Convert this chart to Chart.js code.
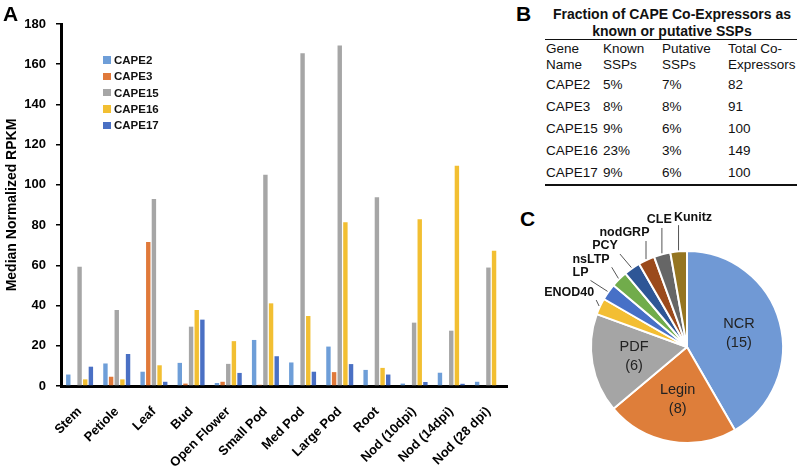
<!DOCTYPE html>
<html><head><meta charset="utf-8">
<script src="https://cdn.jsdelivr.net/npm/chart.js@4.4.0/dist/chart.umd.min.js"></script>
<style>
html,body{margin:0;padding:0;width:800px;height:467px;overflow:hidden;background:#fff;font-family:"Liberation Sans",Arial,sans-serif;}
#wrapA{position:absolute;left:0;top:0;width:515px;height:467px;}
#wrapC{position:absolute;left:520px;top:197px;width:280px;height:270px;}
.panel{position:absolute;font-weight:bold;font-size:21px;line-height:21px;color:#000;}
#legend{position:absolute;left:103px;top:52px;}
.li{height:16.3px;display:flex;align-items:center;font-weight:bold;font-size:11.5px;color:#111;}
.sw{width:7.5px;height:7.5px;margin-right:3.5px;flex:none;}
#ttl{position:absolute;left:545px;top:6px;width:254px;text-align:center;font-weight:bold;font-size:14px;line-height:16.5px;color:#111;white-space:nowrap;}
#tbl{position:absolute;left:545px;top:39px;width:252px;border-collapse:collapse;table-layout:fixed;font-size:13.5px;color:#111;border-top:1.5px solid #111;border-bottom:2px solid #111;}
#tbl td{padding:0 0 0 1px;white-space:nowrap;}
#tbl tr.h td{height:33px;vertical-align:top;line-height:16px;padding-top:1px;}
#tbl tr.d td{height:22px;vertical-align:middle;line-height:22px;}
</style></head>
<body>
<div id="wrapA"><canvas id="cA" width="515" height="467"></canvas></div>
<div id="legend"></div>
<div class="panel" style="left:3px;top:3px;">A</div>
<div class="panel" style="left:516px;top:3px;">B</div>
<div class="panel" style="left:520px;top:208px;">C</div>
<div id="ttl">Fraction of CAPE Co-Expressors as<br>known or putative SSPs</div>
<table id="tbl"><colgroup><col style="width:57px"><col style="width:59px"><col style="width:66px"><col style="width:70px"></colgroup><tbody id="tb"></tbody></table>
<div id="wrapC"><canvas id="cC" width="280" height="270"></canvas></div>
<script>
// ---- Panel A data ----
const categories = ['Stem','Petiole','Leaf','Bud','Open Flower','Small Pod','Med Pod','Large Pod','Root','Nod (10dpi)','Nod (14dpi)','Nod (28 dpi)'];
const seriesNames = ['CAPE2','CAPE3','CAPE15','CAPE16','CAPE17'];
const cape2  = [5.7, 11.2, 7.1, 11.5, 1.5, 22.9, 11.7, 19.6, 8.0, 1.2, 6.6, 2.1];
const cape3  = [0, 4.6, 71.6, 1.2, 2.1, 0.6, 0, 6.9, 0, 0, 0, 0];
const cape15 = [59.3, 37.8, 93.0, 29.5, 11.0, 105.0, 165.5, 169.3, 93.9, 31.5, 27.5, 58.9];
const cape16 = [3.3, 3.3, 10.3, 37.8, 22.3, 41.1, 34.8, 81.4, 9.0, 82.9, 109.5, 67.3];
const cape17 = [9.6, 15.9, 2.1, 33.0, 6.5, 14.8, 7.1, 10.9, 5.7, 2.0, 1.1, 0];
const yTicks = [0,20,40,60,80,100,120,140,160,180];
// ---- Panel B data ----
const tableHeader = [['Gene','Name'],['Known','SSPs'],['Putative','SSPs'],['Total Co-','Expressors']];
const geneNames = ['CAPE2','CAPE3','CAPE15','CAPE16','CAPE17'];
const knownSSP = ['5%','8%','9%','23%','9%'];
const putativeSSP = ['7%','8%','6%','3%','6%'];
const totalCoExp = [82, 91, 100, 149, 100];
// ---- Panel C data ----
const pieLabels = ['NCR','Legin','PDF','ENOD40','LP','nsLTP','PCY','nodGRP','CLE','Kunitz'];
const pieValues = [15, 8, 6, 1, 1, 1, 1, 1, 1, 1];

const FONT = '"Liberation Sans", Arial, sans-serif';
const seriesColors = ['#6E9ED8','#E0793A','#A6A6A6','#F2BF32','#4A70C4'];
const pieColors = ['#7099D5','#DE7E3A','#A5A5A5','#F3BE33','#4770C7','#71AC4B','#2E5696','#9B4A1C','#666666','#957521'];
const seriesValues = [cape2, cape3, cape15, cape16, cape17];

// legend
const lg = document.getElementById('legend');
seriesNames.forEach((n,i)=>{
  const d=document.createElement('div'); d.className='li';
  d.innerHTML='<span class="sw" style="background:'+seriesColors[i]+'"></span>'+n;
  lg.appendChild(d);
});

// table
const tb=document.getElementById('tb');
let hr='<tr class="h">'+tableHeader.map(h=>'<td>'+h[0]+'<br>'+h[1]+'</td>').join('')+'</tr>';
geneNames.forEach((g,i)=>{ hr+='<tr class="d"><td>'+g+'</td><td>'+knownSSP[i]+'</td><td>'+putativeSSP[i]+'</td><td>'+totalCoExp[i]+'</td></tr>'; });
tb.innerHTML=hr;

// bar chart
new Chart(document.getElementById('cA'), {
  type:'bar',
  data:{labels:categories, datasets:seriesNames.map((n,i)=>({label:n,data:seriesValues[i],backgroundColor:seriesColors[i],categoryPercentage:0.76,barPercentage:0.78}))},
  options:{
    responsive:false, animation:false, devicePixelRatio:1,
    layout:{padding:{top:24,right:8,left:0,bottom:0}},
    plugins:{legend:{display:false},tooltip:{enabled:false}},
    scales:{
      x:{grid:{display:false}, border:{color:'#000',width:3},
         ticks:{autoSkip:false,maxRotation:45,minRotation:45,padding:10,color:'#000',font:{family:FONT,size:13,weight:'bold'}},
         afterFit(s){s.height=81;}},
      y:{min:0,max:180,
         afterBuildTicks(s){s.ticks=yTicks.map(v=>({value:v}));},
         ticks:{padding:10,color:'#000',font:{family:FONT,size:13,weight:'bold'}},
         grid:{drawOnChartArea:false,tickLength:5,color:'#000',lineWidth:1.5},
         border:{color:'#000',width:3},
         title:{display:true,text:'Median Normalized RPKM',color:'#000',font:{family:FONT,size:14,weight:'bold'},padding:{top:4,bottom:0}},
         afterFit(s){s.width=61;}}
    }
  }
});

// pie labels plugin
const pieLabelPlugin = {
  id:'pieLabels',
  afterDatasetsDraw(chart){
    const ctx=chart.ctx, meta=chart.getDatasetMeta(0);
    // inside labels
    meta.data.forEach((arc,i)=>{
      const p=arc.getProps(['x','y','startAngle','endAngle','outerRadius']);
      const mid=(p.startAngle+p.endAngle)/2, ux=Math.cos(mid), uy=Math.sin(mid);
      if(pieValues[i]>1){
        const d=p.outerRadius*0.56;
        ctx.save(); ctx.fillStyle='#222'; ctx.textAlign='center'; ctx.textBaseline='middle';
        ctx.font='14.5px '+FONT;
        ctx.fillText(pieLabels[i],p.x+ux*d,p.y+uy*d-9.5);
        ctx.fillText('('+pieValues[i]+')',p.x+ux*d,p.y+uy*d+9.5);
        ctx.restore();
      }
    });
    // outside labels: start on the slice's mid angle, then spread angularly until no overlap
    ctx.save();
    ctx.font='bold 12.5px '+FONT;
    const h=12;
    const items=[];
    meta.data.forEach((arc,i)=>{
      if(pieValues[i]>1) return;
      const p=arc.getProps(['x','y','startAngle','endAngle','outerRadius']);
      const mid=(p.startAngle+p.endAngle)/2;
      items.push({i,p,mid,ang:mid,w:ctx.measureText(pieLabels[i]).width});
    });
    const boxOf=(it)=>{
      const R=it.p.outerRadius+34;
      const cx=it.p.x+Math.cos(it.ang)*R, cy=it.p.y+Math.sin(it.ang)*R;
      return {cx,cy,x1:cx-it.w/2,x2:cx+it.w/2,y1:cy-h/2,y2:cy+h/2};
    };
    const step=0.15*Math.PI/180;
    for(let iter=0;iter<400;iter++){
      let moved=false;
      for(let j=0;j<items.length-1;j++){
        const a=boxOf(items[j]), b=boxOf(items[j+1]);
        const ox=Math.min(a.x2,b.x2)-Math.max(a.x1,b.x1)+2, oy=Math.min(a.y2,b.y2)-Math.max(a.y1,b.y1)+1;
        if(ox>0&&oy>0){items[j].ang-=step; items[j+1].ang+=step; moved=true;}
      }
      if(!moved) break;
    }
    items.forEach(it=>{
      const b=boxOf(it), p=it.p, r=p.outerRadius;
      const sx=p.x+Math.cos(it.mid)*(r+1), sy=p.y+Math.sin(it.mid)*(r+1);
      const ex=Math.min(Math.max(sx,b.x1-2),b.x2+2), ey=Math.min(Math.max(sy,b.y1-2),b.y2+2);
      ctx.strokeStyle='#555'; ctx.lineWidth=1;
      ctx.beginPath(); ctx.moveTo(sx,sy); ctx.lineTo(ex,ey); ctx.stroke();
      ctx.fillStyle='#111'; ctx.textAlign='center'; ctx.textBaseline='middle';
      ctx.fillText(pieLabels[it.i],b.cx,b.cy);
    });
    ctx.restore();
  }
};

new Chart(document.getElementById('cC'), {
  type:'pie',
  data:{labels:pieLabels, datasets:[{data:pieValues, backgroundColor:pieColors, borderColor:'#fff', borderWidth:2}]},
  options:{responsive:false, animation:false, devicePixelRatio:1,
    layout:{padding:{left:70,top:53,right:16,bottom:23}},
    plugins:{legend:{display:false},tooltip:{enabled:false}}},
  plugins:[pieLabelPlugin]
});
</script>
</body></html>
